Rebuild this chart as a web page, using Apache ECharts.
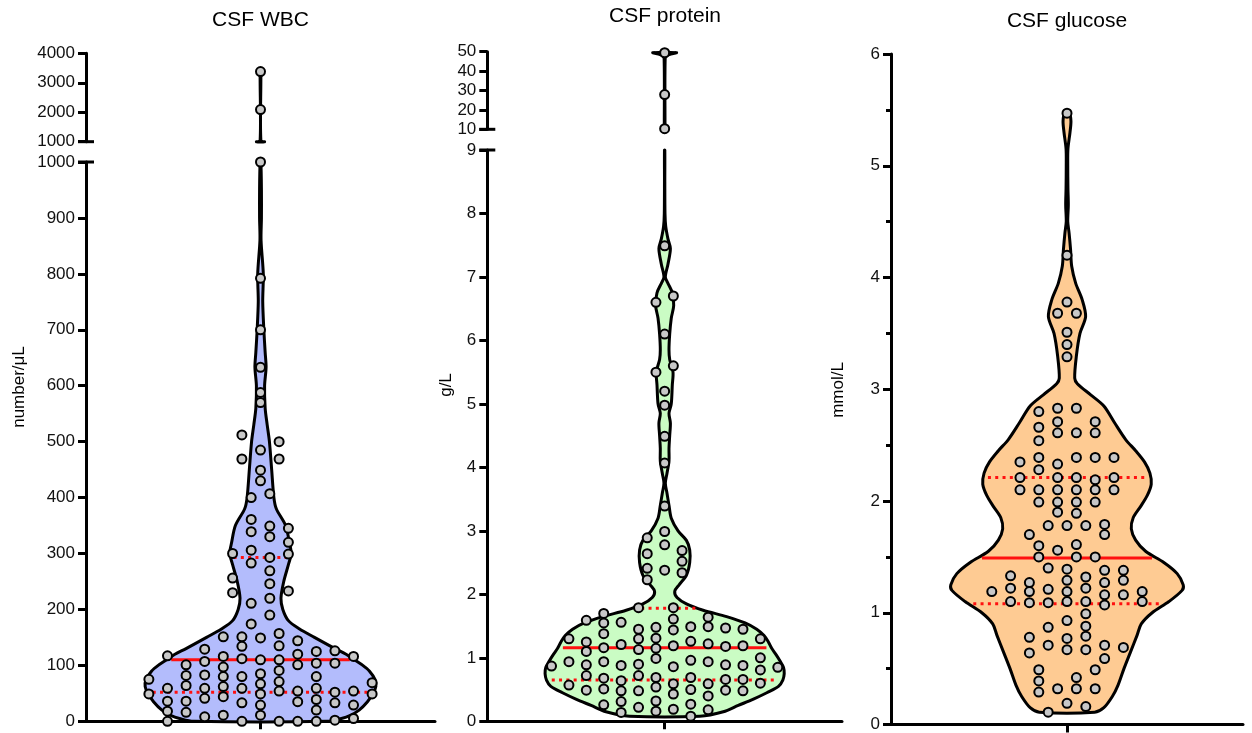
<!DOCTYPE html>
<html><head><meta charset="utf-8">
<script src="https://cdn.jsdelivr.net/npm/echarts@6/dist/echarts.min.js"></script>
<style>html,body{margin:0;padding:0;background:#fff}#c{width:1252px;height:733px}</style>
</head><body><div id="c"></div>
<script>
const FONT = '"Liberation Sans", Arial, Helvetica, sans-serif';
const panelTitles = ['CSF WBC', 'CSF protein', 'CSF glucose'];
const yAxisNames = ['number/μL', 'g/L', 'mmol/L'];

// ---- CSF WBC (number/μL): points grouped by swarm column [column offset, values] ----
const wbcColumns = [
  [-6, [75, 49]],
  [-5, [117, 59, 36, 18, 0]],
  [-4, [101, 82, 64, 36, 16]],
  [-3, [129, 107, 83, 59, 41, 8]],
  [-2, [151, 116, 97, 80, 62, 44, 11]],
  [-1.5, [300, 256, 230]],
  [-1, [512, 469, 151, 134, 112, 80, 59, 33, 0]],
  [-0.5, [400, 361, 339, 306, 283, 211, 174]],
  [0, [1000, 792, 700, 633, 588, 570, 485, 449, 430, 149, 110, 85, 67, 49, 29, 11]],
  [0.5, [407, 349, 330, 293, 269, 246, 220, 190]],
  [1, [500, 469, 157, 135, 110, 91, 71, 54, 0]],
  [1.5, [345, 320, 299, 233]],
  [2, [144, 120, 101, 54, 35, 0]],
  [3, [125, 104, 80, 59, 39, 20, 0]],
  [4, [126, 104, 52, 33, 2]],
  [5, [116, 54, 29, 5]],
  [6, [69, 49]]
];
const wbcHighColumns = [[0, [3380, 2090]]];
const wbcStats = [52, 110, 293];           // Q1, median, Q3
const wbcViolinY  = [0, 5, 10, 20, 35, 50, 62, 75, 90, 100, 110, 120, 130, 150, 165, 180, 200, 220, 250, 280, 300, 320, 350, 380, 400, 450, 500, 530, 560, 600, 633, 660, 700, 750, 800, 860, 900, 950, 1000];
const wbcViolinHW = [3.6, 4.35, 4.8, 5.3, 5.75, 6.05, 6.2, 6.15, 5.85, 5.5, 5.05, 4.6, 4.0, 2.9, 2.1, 1.5, 1.2, 1.1, 1.25, 1.5, 1.65, 1.55, 1.35, 0.85, 0.72, 0.6, 0.48, 0.36, 0.25, 0.22, 0.3, 0.25, 0.18, 0.12, 0.15, 0.03, 0.05, 0.05, 0.02];
const wbcHighViolinY  = [1000, 1040, 3380];
const wbcHighViolinHW = [0.22, 0.02, 0.02];
const wbcLowTicks = [0, 1000, 100];
const wbcHighTicks = [1000, 4000, 1000];

// ---- CSF protein (g/L) ----
const proteinColumns = [
  [-6.5, [0.87]],
  [-5.5, [1.30, 0.94, 0.57]],
  [-4.5, [1.59, 1.25, 1.10, 0.89, 0.72, 0.49]],
  [-3.5, [1.70, 1.55, 1.38, 1.16, 0.94, 0.68, 0.51, 0.26]],
  [-2.5, [1.56, 1.21, 0.88, 0.64, 0.48, 0.31, 0.14]],
  [-1.5, [1.79, 1.45, 1.30, 1.13, 0.90, 0.72, 0.48, 0.22]],
  [-1, [2.89, 2.64, 2.41, 2.23]],
  [-0.5, [6.60, 5.50, 1.48, 1.31, 1.15, 0.99, 0.69, 0.54, 0.32, 0.16]],
  [0, [7.49, 6.10, 5.20, 4.98, 4.49, 4.07, 3.39, 2.99, 2.78, 2.38]],
  [0.5, [6.70, 5.60, 1.79, 1.61, 1.44, 1.19, 0.86, 0.59, 0.43, 0.19]],
  [1, [2.69, 2.52, 2.34]],
  [1.5, [1.49, 1.26, 0.96, 0.69, 0.50, 0.27, 0.08]],
  [2.5, [1.64, 1.49, 1.22, 0.94, 0.59, 0.40, 0.18]],
  [3.5, [1.47, 1.18, 0.89, 0.66, 0.49]],
  [4.5, [1.45, 1.19, 0.88, 0.66, 0.48]],
  [5.5, [1.30, 1.00, 0.81, 0.60]],
  [6.5, [0.85]]
];
const proteinHighColumns = [[0, [49.5, 27.9, 10.3]]];
const proteinStats = [0.65, 1.16, 1.78];
const proteinViolinY  = [0.08, 0.15, 0.25, 0.35, 0.45, 0.55, 0.65, 0.75, 0.85, 0.95, 1.05, 1.15, 1.25, 1.35, 1.45, 1.55, 1.65, 1.75, 1.85, 1.95, 2.05, 2.15, 2.3, 2.5, 2.7, 2.85, 3.0, 3.2, 3.4, 3.6, 3.75, 3.9, 4.1, 4.3, 4.5, 4.7, 4.85, 5.0, 5.3, 5.5, 5.7, 5.85, 6.1, 6.35, 6.55, 6.75, 6.9, 7.0, 7.2, 7.45, 7.6, 7.8, 8.0, 8.5, 9];
const proteinViolinHW = [2.02, 3.37, 4.23, 5.10, 5.87, 6.54, 6.79, 6.87, 6.83, 6.63, 6.40, 6.15, 5.96, 5.71, 5.29, 4.62, 3.56, 2.21, 1.25, 0.71, 0.58, 0.83, 1.25, 1.44, 1.44, 1.25, 0.77, 0.38, 0.25, 0.13, 0.04, 0.13, 0.25, 0.25, 0.29, 0.33, 0.25, 0.38, 0.44, 0.48, 0.29, 0.25, 0.29, 0.38, 0.52, 0.44, 0.19, 0.04, 0.19, 0.33, 0.19, 0.06, 0.02, 0.01, 0.01];
const proteinHighViolinY  = [10, 11, 46.5, 47.8, 48.8, 49.5];
const proteinHighViolinHW = [0.02, 0.02, 0.03, 0.12, 0.35, 0.68];
const proteinLowTicks = [0, 9, 1];
const proteinHighTicks = [10, 50, 10];

// ---- CSF glucose (mmol/L) ----
const glucoseColumns = [
  [-4, [1.19]],
  [-3, [1.33, 1.22, 1.10]],
  [-2.5, [2.35, 2.21, 2.10]],
  [-2, [1.70, 1.27, 1.19, 1.09, 0.78, 0.64]],
  [-1.5, [2.80, 2.66, 2.54, 2.39, 2.28, 2.10, 1.99, 1.60, 1.50, 0.49, 0.39, 0.29]],
  [-1, [1.78, 1.40, 1.21, 1.09, 0.87, 0.71, 0.11]],
  [-0.5, [3.68, 2.83, 2.71, 2.61, 2.33, 2.21, 2.10, 1.99, 1.90, 1.56, 0.32]],
  [0, [5.47, 4.20, 3.78, 3.51, 3.40, 3.29, 1.78, 1.39, 1.29, 1.19, 1.10, 0.93, 0.77, 0.67, 0.19]],
  [0.5, [3.68, 2.83, 2.61, 2.39, 2.21, 2.10, 1.99, 1.89, 1.61, 1.50, 0.42, 0.32]],
  [1, [1.78, 1.32, 1.22, 1.10, 0.99, 0.88, 0.79, 0.67, 0.16]],
  [1.5, [2.71, 2.61, 2.39, 2.19, 2.10, 1.99, 1.50, 0.49, 0.32]],
  [2, [1.79, 1.70, 1.38, 1.27, 1.16, 1.07, 0.71, 0.59]],
  [2.5, [2.39, 2.21, 2.10]],
  [3, [1.38, 1.29, 1.16, 0.69]],
  [4, [1.19, 1.10]]
];
const glucoseStats = [1.08, 1.49, 2.21];
const glucoseViolinY  = [0.11, 0.15, 0.25, 0.35, 0.5, 0.65, 0.8, 0.9, 1.0, 1.1, 1.2, 1.25, 1.35, 1.45, 1.55, 1.65, 1.75, 1.85, 1.95, 2.05, 2.15, 2.25, 2.35, 2.45, 2.55, 2.7, 2.85, 2.95, 3.05, 3.1, 3.3, 3.5, 3.65, 3.8, 3.95, 4.1, 4.25, 4.4, 4.5, 4.65, 4.8, 5.0, 5.15, 5.3, 5.4, 5.47];
const glucoseViolinHW = [1.47, 1.96, 2.41, 2.71, 3.03, 3.38, 3.73, 3.95, 4.53, 5.42, 6.12, 6.18, 5.86, 5.15, 4.18, 3.65, 3.42, 3.52, 3.91, 4.27, 4.48, 4.41, 4.12, 3.65, 3.12, 2.53, 1.96, 1.26, 0.55, 0.41, 0.50, 0.69, 0.99, 0.81, 0.46, 0.25, 0.19, 0.11, 0.04, 0.07, 0.05, 0.04, 0.05, 0.16, 0.21, 0.12];
const glucoseTicks = [0, 6, 1];

const violinColors = ['#b3bcfc', '#cafcc4', '#fecb93'];

// ---------------- helpers ----------------
function flatten(cols) {
  const out = [];
  cols.forEach(([s, vals]) => vals.forEach(v => out.push([s, v])));
  return out;
}
function interpHW(ys, hws, v) {
  if (v <= ys[0]) return hws[0];
  for (let i = 1; i < ys.length; i++) {
    if (v <= ys[i]) {
      const t = (v - ys[i - 1]) / (ys[i] - ys[i - 1]);
      return hws[i - 1] + t * (hws[i] - hws[i - 1]);
    }
  }
  return hws[hws.length - 1];
}
function violinSeries(idx, ys, hws, fill) {
  return {
    type: 'custom', xAxisIndex: idx, yAxisIndex: idx, clip: false, z: 2, silent: true,
    data: [[0, ys[0]]],
    renderItem: (params, api) => {
      const L = ys.map((y, i) => api.coord([-hws[i], y]));
      const R = ys.map((y, i) => api.coord([hws[i], y])).reverse();
      return { type: 'polygon', shape: { points: L.concat(R), smooth: 0.3 },
        style: { fill: fill, stroke: '#000', lineWidth: 3, lineJoin: 'round' } };
    }
  };
}
function statSeries(idx, ys, hws, stats) {
  return {
    type: 'custom', xAxisIndex: idx, yAxisIndex: idx, clip: false, z: 3, silent: true,
    data: stats.map((v, i) => [0, v, i === 1 ? 0 : 1]),
    renderItem: (params, api) => {
      const v = api.value(1);
      const hw = interpHW(ys, hws, v) * 0.97 - 0.1;
      const a = api.coord([-hw, v]), b = api.coord([hw, v]);
      const dotted = api.value(2) === 1;
      return { type: 'line', shape: { x1: a[0], y1: a[1], x2: b[0], y2: b[1] },
        style: { stroke: '#ff1010', lineWidth: 3, lineDash: dotted ? [3, 4.3] : null } };
    }
  };
}
function pointSeries(idx, cols) {
  return {
    type: 'scatter', xAxisIndex: idx, yAxisIndex: idx, clip: false, z: 4, silent: true,
    data: flatten(cols), symbolSize: 9,
    itemStyle: { color: '#c8c8c8', borderColor: '#000', borderWidth: 2, opacity: 1 }
  };
}
function breakSeries(idx, xmin, v) {
  return {
    type: 'custom', xAxisIndex: idx, yAxisIndex: idx, clip: false, z: 5, silent: true,
    data: [[xmin, v]],
    renderItem: (params, api) => {
      const p = api.coord([api.value(0), api.value(1)]);
      return { type: 'line', shape: { x1: p[0] - 8, y1: p[1], x2: p[0] + 8, y2: p[1] },
        style: { stroke: '#000', lineWidth: 3 } };
    }
  };
}

// ---------------- layout ----------------
const grids = [
  { left: 86, top: 162, width: 349, height: 559.3 },     // WBC low
  { left: 86, top: 53.3, width: 349, height: 88.4 },     // WBC high
  { left: 487.3, top: 150, width: 354.7, height: 571.3 },// protein low
  { left: 487.3, top: 51.7, width: 354.7, height: 77.6 },// protein high
  { left: 891, top: 54, width: 352, height: 671 }        // glucose
];
const xHalf = [9.38, 9.38, 10.19, 10.19, 9.36];
const xShown = [true, false, true, false, true];
const yTicks = [wbcLowTicks, wbcHighTicks, proteinLowTicks, proteinHighTicks, glucoseTicks];

const xAxes = grids.map((g, i) => ({
  type: 'value', gridIndex: i, min: -xHalf[i], max: xHalf[i], show: xShown[i],
  axisLine: { show: true, onZero: false, lineStyle: { color: '#000', width: 3 } },
  axisTick: { show: true, customValues: [0], length: 8, lineStyle: { color: '#000', width: 3 } },
  axisLabel: { show: false }, splitLine: { show: false }
}));
const yAxes = grids.map((g, i) => ({
  type: 'value', gridIndex: i, min: yTicks[i][0], max: yTicks[i][1], interval: yTicks[i][2],
  axisLine: { show: true, onZero: false, lineStyle: { color: '#000', width: 3 } },
  axisTick: { show: true, length: 8, lineStyle: { color: '#000', width: 3 } },
  minorTick: i === 4 ? { show: true, splitNumber: 2, length: 5, lineStyle: { color: '#000', width: 3 } } : { show: false },
  axisLabel: { color: '#111', fontSize: 17, fontFamily: FONT, margin: 11, formatter: v => String(v) },
  splitLine: { show: false }, minorSplitLine: { show: false }
}));

const series = [
  violinSeries(0, wbcViolinY, wbcViolinHW, violinColors[0]),
  violinSeries(1, wbcHighViolinY, wbcHighViolinHW, violinColors[0]),
  statSeries(0, wbcViolinY, wbcViolinHW, wbcStats),
  pointSeries(0, wbcColumns),
  pointSeries(1, wbcHighColumns),
  breakSeries(0, -xHalf[0], wbcLowTicks[1]),
  breakSeries(1, -xHalf[1], wbcHighTicks[0]),

  violinSeries(2, proteinViolinY, proteinViolinHW, violinColors[1]),
  violinSeries(3, proteinHighViolinY, proteinHighViolinHW, violinColors[1]),
  statSeries(2, proteinViolinY, proteinViolinHW, proteinStats),
  pointSeries(2, proteinColumns),
  pointSeries(3, proteinHighColumns),
  breakSeries(2, -xHalf[2], proteinLowTicks[1]),
  breakSeries(3, -xHalf[3], proteinHighTicks[0]),

  violinSeries(4, glucoseViolinY, glucoseViolinHW, violinColors[2]),
  statSeries(4, glucoseViolinY, glucoseViolinHW, glucoseStats),
  pointSeries(4, glucoseColumns)
];

function txt(x, y, text, size, rot) {
  return { type: 'text', x: x, y: y, rotation: rot || 0, silent: true, z: 10,
    style: { text: text, font: size + 'px ' + FONT, fill: '#000',
      align: 'center', verticalAlign: 'middle', textAlign: 'center', textVerticalAlign: 'middle' } };
}
const graphic = [
  txt(260.5, 20, panelTitles[0], 21),
  txt(665, 16, panelTitles[1], 21),
  txt(1067, 21, panelTitles[2], 21),
  txt(19, 387, yAxisNames[0], 17, Math.PI / 2),
  txt(446, 385, yAxisNames[1], 17, Math.PI / 2),
  txt(838, 390, yAxisNames[2], 17, Math.PI / 2)
];

const chart = echarts.init(document.getElementById('c'), null, { renderer: 'canvas' });
chart.setOption({
  animation: false,
  backgroundColor: '#fff',
  grid: grids,
  xAxis: xAxes,
  yAxis: yAxes,
  series: series,
  graphic: graphic
});
</script></body></html>
